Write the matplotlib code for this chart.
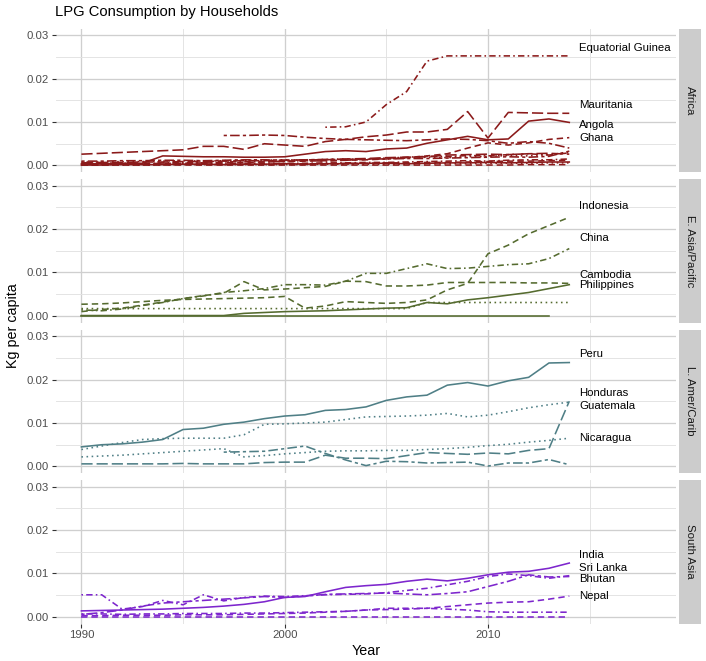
import matplotlib
matplotlib.use("Agg")
import matplotlib.pyplot as plt
from matplotlib.ticker import FormatStrFormatter

plt.rcParams["font.family"] = ["Liberation Sans", "DejaVu Sans"]

# ---- data (kg per capita), each series listed from its first year ----
regions = ["Africa", "E. Asia/Pacific", "L. Amer/Carib", "South Asia"]
region_colors = ["#8B1A1A", "#556B2F", "#4F7F86", "#7D26CD"]

africa_names = ["Angola", "Equatorial Guinea", "Mauritania", "Ghana", "Gabon",
                "Senegal", "Sudan", "Nigeria", "Cameroon", "Kenya",
                "Cote d'Ivoire", "Tanzania", "Ethiopia", "Zambia"]
africa_lines = ["solid", "dotdash", "longdash", "dash", "twodash",
                "dot", "dotdash", "dash", "longdash", "solid",
                "twodash", "dot", "dash", "dotdash"]
africa_start = [1990, 2002, 1990, 1990, 1997,
                1990, 1990, 1990, 1990, 1990,
                1990, 1990, 1990, 1990]
africa_values = [
    [0.0004, 0.0004, 0.0005, 0.0005, 0.0022, 0.0021, 0.0020, 0.0020, 0.0019, 0.0019,
     0.0020, 0.0026, 0.0032, 0.0034, 0.0032, 0.0038, 0.0040, 0.0051, 0.0059, 0.0067,
     0.0059, 0.0061, 0.0102, 0.0107, 0.0099],
    [0.0088, 0.0089, 0.0100, 0.0140, 0.0170, 0.0240, 0.0252, 0.0252, 0.0252, 0.0252,
     0.0252, 0.0252, 0.0252],
    [0.0026, 0.0028, 0.0030, 0.0032, 0.0034, 0.0036, 0.0044, 0.0044, 0.0037, 0.0050,
     0.0047, 0.0044, 0.0055, 0.0060, 0.0066, 0.0070, 0.0077, 0.0077, 0.0083, 0.0124,
     0.0063, 0.0122, 0.0121, 0.0120, 0.0120],
    [0.0003, 0.0003, 0.0004, 0.0004, 0.0005, 0.0005, 0.0006, 0.0006, 0.0007, 0.0008,
     0.0009, 0.0010, 0.0011, 0.0012, 0.0013, 0.0015, 0.0018, 0.0022, 0.0027, 0.0040,
     0.0052, 0.0047, 0.0052, 0.0060, 0.0064],
    [0.0069, 0.0069, 0.0070, 0.0069, 0.0065, 0.0062, 0.0060, 0.0059, 0.0058, 0.0057,
     0.0059, 0.0061, 0.0060, 0.0057, 0.0051, 0.0055, 0.0051, 0.0040],
    [0.0008, 0.0008, 0.0009, 0.0009, 0.0010, 0.0011, 0.0010, 0.0011, 0.0012, 0.0012,
     0.0013, 0.0012, 0.0014, 0.0015, 0.0014, 0.0016, 0.0017, 0.0019, 0.0018, 0.0020,
     0.0021, 0.0023, 0.0022, 0.0025, 0.0030],
    [0.0005, 0.0006, 0.0005, 0.0004, 0.0006, 0.0007, 0.0006, 0.0008, 0.0009, 0.0008,
     0.0010, 0.0011, 0.0010, 0.0012, 0.0014, 0.0017, 0.0019, 0.0021, 0.0020, 0.0023,
     0.0022, 0.0025, 0.0027, 0.0024, 0.0029],
    [0.0002, 0.0002, 0.0003, 0.0002, 0.0003, 0.0003, 0.0002, 0.0003, 0.0003, 0.0002,
     0.0003, 0.0004, 0.0004, 0.0005, 0.0005, 0.0006, 0.0006, 0.0007, 0.0007, 0.0008,
     0.0009, 0.0010, 0.0010, 0.0011, 0.0012],
    [0.0006, 0.0007, 0.0007, 0.0008, 0.0008, 0.0009, 0.0009, 0.0010, 0.0011, 0.0011,
     0.0012, 0.0013, 0.0013, 0.0015, 0.0016, 0.0018, 0.0019, 0.0020, 0.0024, 0.0025,
     0.0026, 0.0025, 0.0027, 0.0028, 0.0026],
    [0.0001, 0.0001, 0.0002, 0.0002, 0.0002, 0.0003, 0.0003, 0.0002, 0.0003, 0.0003,
     0.0004, 0.0003, 0.0004, 0.0004, 0.0005, 0.0005, 0.0004, 0.0005, 0.0006, 0.0006,
     0.0007, 0.0006, 0.0007, 0.0008, 0.0008],
    [0.0010, 0.0010, 0.0011, 0.0011, 0.0012, 0.0012, 0.0011, 0.0012, 0.0013, 0.0013,
     0.0012, 0.0013, 0.0014, 0.0014, 0.0015, 0.0015, 0.0016, 0.0016, 0.0017, 0.0018,
     0.0019, 0.0020, 0.0019, 0.0021, 0.0033],
    [0.0001, 0.0001, 0.0001, 0.0001, 0.0001, 0.0002, 0.0002, 0.0002, 0.0002, 0.0002,
     0.0002, 0.0002, 0.0003, 0.0003, 0.0003, 0.0003, 0.0003, 0.0004, 0.0004, 0.0004,
     0.0005, 0.0005, 0.0005, 0.0006, 0.0006],
    [0.0001, 0.0001, 0.0001, 0.0001, 0.0001, 0.0001, 0.0001, 0.0001, 0.0001, 0.0001,
     0.0001, 0.0001, 0.0001, 0.0001, 0.0001, 0.0001, 0.0001, 0.0001, 0.0001, 0.0001,
     0.0001, 0.0001, 0.0002, 0.0002, 0.0002],
    [0.0003, 0.0003, 0.0003, 0.0004, 0.0003, 0.0004, 0.0004, 0.0004, 0.0005, 0.0004,
     0.0005, 0.0005, 0.0006, 0.0006, 0.0007, 0.0007, 0.0008, 0.0009, 0.0010, 0.0011,
     0.0010, 0.0012, 0.0013, 0.0013, 0.0015],
]

easia_names = ["Indonesia", "China", "Cambodia", "Philippines", "Vietnam", "Thailand"]
easia_lines = ["dash", "dotdash", "dash", "solid", "solid", "dot"]
easia_start = [1990, 1990, 1990, 1990, 1990, 1990]
easia_values = [
    [0.0027, 0.0028, 0.0030, 0.0033, 0.0036, 0.0038, 0.0039, 0.0040, 0.0041, 0.0042,
     0.0045, 0.0018, 0.0023, 0.0033, 0.0031, 0.0029, 0.0031, 0.0037, 0.0060, 0.0075,
     0.0143, 0.0163, 0.0189, 0.0208, 0.0227],
    [0.0014, 0.0012, 0.0016, 0.0024, 0.0031, 0.0040, 0.0046, 0.0054, 0.0058, 0.0063,
     0.0072, 0.0072, 0.0071, 0.0080, 0.0098, 0.0098, 0.0109, 0.0120, 0.0109, 0.0110,
     0.0114, 0.0118, 0.0120, 0.0132, 0.0155],
    [0.0010, 0.0015, 0.0018, 0.0025, 0.0032, 0.0040, 0.0047, 0.0052, 0.0079, 0.0060,
     0.0062, 0.0065, 0.0068, 0.0080, 0.0079, 0.0069, 0.0069, 0.0071, 0.0077, 0.0077,
     0.0077, 0.0077, 0.0076, 0.0076, 0.0075],
    [0.0001, 0.0001, 0.0001, 0.0001, 0.0001, 0.0001, 0.0001, 0.0001, 0.0006, 0.0008,
     0.0010, 0.0011, 0.0012, 0.0014, 0.0016, 0.0018, 0.0019, 0.0031, 0.0028, 0.0037,
     0.0042, 0.0048, 0.0054, 0.0063, 0.0072],
    [0.0001, 0.0001, 0.0001, 0.0001, 0.0001, 0.0001, 0.0001, 0.0001, 0.0001, 0.0001,
     0.0001, 0.0001, 0.0001, 0.0001, 0.0001, 0.0001, 0.0001, 0.0001, 0.0001, 0.0001,
     0.0001, 0.0001, 0.0001, 0.0001],
    [0.0017, 0.0017, 0.0017, 0.0017, 0.0017, 0.0017, 0.0017, 0.0017, 0.0017, 0.0017,
     0.0017, 0.0017, 0.0017, 0.0017, 0.0017, 0.0017, 0.0017, 0.0031, 0.0031, 0.0031,
     0.0031, 0.0031, 0.0031, 0.0031, 0.0031],
]

lamer_names = ["Peru", "Honduras", "Guatemala", "Nicaragua", "Bolivia"]
lamer_lines = ["solid", "dot", "longdash", "dot", "twodash"]
lamer_start = [1990, 1990, 1990, 1990, 1997]
lamer_values = [
    [0.0045, 0.0050, 0.0052, 0.0056, 0.0062, 0.0085, 0.0088, 0.0097, 0.0102, 0.0110,
     0.0116, 0.0119, 0.0129, 0.0131, 0.0137, 0.0152, 0.0160, 0.0164, 0.0187, 0.0193,
     0.0185, 0.0197, 0.0205, 0.0238, 0.0239],
    [0.0039, 0.0047, 0.0055, 0.0062, 0.0064, 0.0065, 0.0065, 0.0065, 0.0073, 0.0097,
     0.0098, 0.0100, 0.0102, 0.0108, 0.0114, 0.0115, 0.0116, 0.0118, 0.0122, 0.0114,
     0.0118, 0.0126, 0.0135, 0.0142, 0.0148],
    [0.0006, 0.0006, 0.0006, 0.0006, 0.0006, 0.0007, 0.0006, 0.0006, 0.0006, 0.0009,
     0.0010, 0.0010, 0.0026, 0.0019, 0.0019, 0.0018, 0.0025, 0.0032, 0.0030, 0.0028,
     0.0031, 0.0029, 0.0037, 0.0041, 0.0150],
    [0.0022, 0.0024, 0.0026, 0.0029, 0.0032, 0.0035, 0.0038, 0.0041, 0.0022, 0.0025,
     0.0029, 0.0032, 0.0035, 0.0036, 0.0036, 0.0037, 0.0037, 0.0039, 0.0041, 0.0044,
     0.0048, 0.0051, 0.0056, 0.0060, 0.0065],
    [0.0033, 0.0034, 0.0035, 0.0041, 0.0047, 0.0030, 0.0015, 0.0002, 0.0012, 0.0011,
     0.0008, 0.0009, 0.0010, 0.0001, 0.0008, 0.0008, 0.0016, 0.0004],
]

sasia_names = ["India", "Sri Lanka", "Bhutan", "Nepal", "Pakistan", "Bangladesh"]
sasia_lines = ["solid", "dotdash", "twodash", "dash", "dotdash", "dash"]
sasia_start = [1990, 1990, 1990, 1990, 1990, 1990]
sasia_values = [
    [0.0014, 0.0015, 0.0016, 0.0017, 0.0018, 0.0020, 0.0022, 0.0025, 0.0029, 0.0035,
     0.0045, 0.0047, 0.0058, 0.0068, 0.0072, 0.0075, 0.0082, 0.0087, 0.0083, 0.0089,
     0.0097, 0.0103, 0.0105, 0.0112, 0.0124],
    [0.0051, 0.0051, 0.0018, 0.0024, 0.0038, 0.0028, 0.0051, 0.0037, 0.0045, 0.0048,
     0.0047, 0.0049, 0.0051, 0.0052, 0.0053, 0.0056, 0.0061, 0.0066, 0.0074, 0.0082,
     0.0093, 0.0099, 0.0095, 0.0089, 0.0095],
    [0.0006, 0.0010, 0.0016, 0.0025, 0.0032, 0.0035, 0.0038, 0.0041, 0.0044, 0.0047,
     0.0045, 0.0048, 0.0052, 0.0053, 0.0054, 0.0055, 0.0053, 0.0051, 0.0054, 0.0058,
     0.0070, 0.0082, 0.0097, 0.0092, 0.0093],
    [0.0003, 0.0003, 0.0004, 0.0004, 0.0004, 0.0005, 0.0005, 0.0005, 0.0006, 0.0007,
     0.0008, 0.0009, 0.0011, 0.0013, 0.0016, 0.0017, 0.0018, 0.0020, 0.0024, 0.0028,
     0.0032, 0.0034, 0.0035, 0.0041, 0.0048],
    [0.0007, 0.0007, 0.0006, 0.0007, 0.0007, 0.0008, 0.0008, 0.0008, 0.0009, 0.0009,
     0.0010, 0.0011, 0.0012, 0.0013, 0.0016, 0.0020, 0.0020, 0.0020, 0.0018, 0.0016,
     0.0012, 0.0011, 0.0011, 0.0011, 0.0011],
    [0.0001, 0.0001, 0.0001, 0.0001, 0.0001, 0.0001, 0.0001, 0.0001, 0.0001, 0.0001,
     0.0001, 0.0001, 0.0001, 0.0001, 0.0001, 0.0001, 0.0001, 0.0001, 0.0001, 0.0001,
     0.0001, 0.0001, 0.0001, 0.0001, 0.0001],
]

# end-of-line labels (country, label height after repelling)
label_names = [
    ["Equatorial Guinea", "Mauritania", "Angola", "Ghana"],
    ["Indonesia", "China", "Cambodia", "Philippines"],
    ["Peru", "Honduras", "Guatemala", "Nicaragua"],
    ["India", "Sri Lanka", "Bhutan", "Nepal"],
]
label_y = [
    [0.0271, 0.0140, 0.0093, 0.0063],
    [0.0252, 0.0180, 0.0095, 0.0072],
    [0.0258, 0.0168, 0.0138, 0.0065],
    [0.0143, 0.0113, 0.0088, 0.0048],
]

all_names = [africa_names, easia_names, lamer_names, sasia_names]
all_lines = [africa_lines, easia_lines, lamer_lines, sasia_lines]
all_start = [africa_start, easia_start, lamer_start, sasia_start]
all_values = [africa_values, easia_values, lamer_values, sasia_values]

dash_styles = {
    "solid": "-",
    "dash": (0, (4, 2.5)),
    "longdash": (0, (7, 2.5)),
    "dot": (0, (1, 2.2)),
    "dotdash": (0, (1, 2, 4, 2)),
    "twodash": (0, (2, 2, 6, 2)),
}

W, H = 706, 661
fig = plt.figure(figsize=(W / 100, H / 100), dpi=100)

panel_left, panel_w = 56, 620
panel_h, pitch, top0 = 143.5, 150.5, 28.5

for i, region in enumerate(regions):
    top = top0 + i * pitch
    ax = fig.add_axes([panel_left / W, 1 - (top + panel_h) / H, panel_w / W, panel_h / H])
    color = region_colors[i]
    for name, lt, start, vals in zip(all_names[i], all_lines[i], all_start[i], all_values[i]):
        years = list(range(start, start + len(vals)))
        ax.plot(years, vals, color=color, lw=1.15, linestyle=dash_styles[lt])
    for name, ly in zip(label_names[i], label_y[i]):
        ax.text(2014.5, ly, name, ha="left", va="center", fontsize=8.2,
                color="black", clip_on=False)

    ax.set_xlim(1988.75, 2019.25)
    ax.set_ylim(-0.0015, 0.0315)
    ax.set_xticks([1990, 2000, 2010])
    ax.set_xticks([1995, 2005, 2015], minor=True)
    ax.set_yticks([0, 0.01, 0.02, 0.03])
    ax.set_yticks([0.005, 0.015, 0.025], minor=True)
    ax.yaxis.set_major_formatter(FormatStrFormatter("%.2f"))
    ax.grid(which="major", color="#cfcfcf", lw=0.95)
    ax.grid(which="minor", color="#e2e2e2", lw=0.65)
    ax.set_axisbelow(True)
    for s in ax.spines.values():
        s.set_visible(False)
    ax.tick_params(which="major", length=3, width=0.8, color="#333333",
                   labelsize=8.2, labelcolor="#4d4d4d", pad=2)
    ax.tick_params(which="minor", length=0)
    if i < len(regions) - 1:
        ax.tick_params(axis="x", which="both", length=0, labelbottom=False)

    sax = fig.add_axes([679 / W, 1 - (top + panel_h) / H, 22 / W, panel_h / H])
    sax.set_facecolor("#cccccc")
    sax.set_xticks([])
    sax.set_yticks([])
    for s in sax.spines.values():
        s.set_visible(False)
    sax.text(0.5, 0.5, region, rotation=-90, ha="center", va="center",
             fontsize=8.2, color="#1a1a1a", transform=sax.transAxes)

fig.text(55 / W, 1 - 12 / H, "LPG Consumption by Households", fontsize=10.6,
         ha="left", va="center", color="black")
fig.text(13 / W, 1 - 326 / H, "Kg per capita", rotation=90, fontsize=10.3,
         ha="center", va="center")
fig.text(366 / W, 1 - 651 / H, "Year", fontsize=10.3, ha="center", va="center")

fig.savefig("out.png", dpi=100)
